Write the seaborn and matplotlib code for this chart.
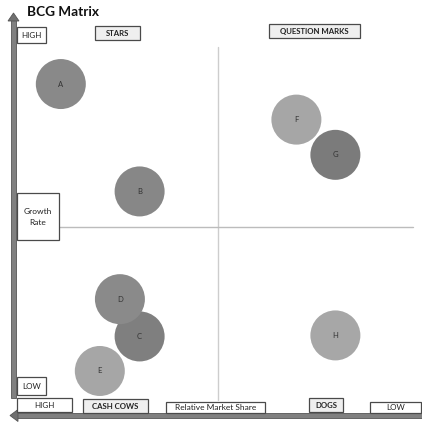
import matplotlib
matplotlib.use("Agg")
import matplotlib.pyplot as plt
import matplotlib.transforms as mtransforms
from matplotlib.patches import Rectangle, Polygon
import seaborn as sns
import pandas as pd

# Portfolio units: relative market share (x, 0-100, high on the left) and growth rate (y, 0-100)
units = ["A", "B", "C", "D", "E", "F", "G", "H"]
market_share = [10.9, 30.5, 30.5, 25.6, 20.6, 69.5, 79.2, 79.2]
growth_rate = [91.8, 60.4, 18.0, 28.9, 7.9, 81.4, 71.1, 18.3]
shades = ["#898989", "#878787", "#7f7f7f", "#8a8a8a", "#a6a6a6", "#a6a6a6", "#7b7b7b", "#a7a7a7"]

quadrants = ["STARS", "QUESTION MARKS", "CASH COWS", "DOGS"]

sns.set_theme(style="white")
plt.rcParams["font.family"] = ["Lato", "DejaVu Sans"]

W, H = 422, 423
fig = plt.figure(figsize=(W / 100, H / 100), dpi=100)
fig.patch.set_facecolor("white")

# pixel transform (origin at top-left)
PX = mtransforms.Affine2D().scale(1 / 100, -1 / 100).translate(0, H / 100) + fig.dpi_scale_trans

# chart axes: x from 17px (0) to 419px (100), y from 398px (0) to 227px (50)
ax = fig.add_axes([0, 0, 1, 1])
ax.set_xlim(-17 / 4.02, (W - 17) / 4.02)
ax.set_ylim((398 - H) / 3.42, 398 / 3.42)
ax.axis("off")

df = pd.DataFrame({"unit": units, "share": market_share, "growth": growth_rate})
palette = dict(zip(units, shades))

# quadrant dividers
ax.plot([50, 50], [(398 - 400) / 3.42, (398 - 47) / 3.42], color="#cdcdcd", lw=1.0, zorder=1)
ax.plot([(59 - 17) / 4.02, (413 - 17) / 4.02], [50, 50], color="#bcbcbc", lw=1.0, zorder=1)

sns.scatterplot(data=df, x="share", y="growth", hue="unit", palette=palette,
                s=1296, linewidth=0, edgecolor="none", legend=False, ax=ax, zorder=3, alpha=1)

for u, x, y in zip(df["unit"], df["share"], df["growth"]):
    ax.text(x, y, u, ha="center", va="center", fontsize=5.5, color="#333333", zorder=4)


def box(l, t, r, b, text, fill="white", bold=False, size=6.0):
    fig.patches.append(Rectangle((l, t), r - l, b - t, transform=PX, facecolor=fill,
                                 edgecolor="#4a4a4a", lw=0.9, zorder=5))
    fig.text((l + r) / 2, (t + b) / 2 + 0.5, text, transform=PX, ha="center", va="center",
             fontsize=size, color="#222222", fontweight="bold" if bold else "normal",
             zorder=6, linespacing=1.6)


# axis arrows
fig.patches.append(Rectangle((11, 20), 5, 378, transform=PX, facecolor="#808080",
                             edgecolor="#555555", lw=0.6, zorder=4))
fig.patches.append(Polygon([(8, 21), (13.5, 13), (19, 21)], closed=True, transform=PX,
                           facecolor="#707070", edgecolor="#555555", lw=0.6, zorder=4))
fig.patches.append(Rectangle((17, 413), W - 17, 5, transform=PX, facecolor="#808080",
                             edgecolor="#555555", lw=0.6, zorder=4))
fig.patches.append(Polygon([(18, 409.5), (10, 415.5), (18, 421.5)], closed=True, transform=PX,
                           facecolor="#707070", edgecolor="#555555", lw=0.6, zorder=4))

fig.text(27, 12, "BCG Matrix", transform=PX, ha="left", va="center",
         fontsize=9.8, fontweight="bold", color="#111111")

box(17, 27, 46, 43, "HIGH", size=5.8)
box(95, 26, 140, 40, quadrants[0], fill="#efefef", bold=True, size=5.6)
box(269, 24, 360, 38, quadrants[1], fill="#efefef", bold=True, size=5.6)
box(17, 193, 59, 240, "Growth\nRate", size=6.0)
box(17, 377, 46, 395, "LOW", size=5.8)
box(17, 398, 72, 412, "HIGH", size=5.8)
box(83, 399, 148, 413, quadrants[2], fill="#efefef", bold=True, size=5.6)
box(166, 402, 265, 413, "Relative Market Share", size=6.0)
box(309, 398, 343, 412, quadrants[3], fill="#efefef", bold=True, size=5.6)
box(370, 402, 421, 413, "LOW", size=5.8)

fig.savefig("out.png", dpi=100)
